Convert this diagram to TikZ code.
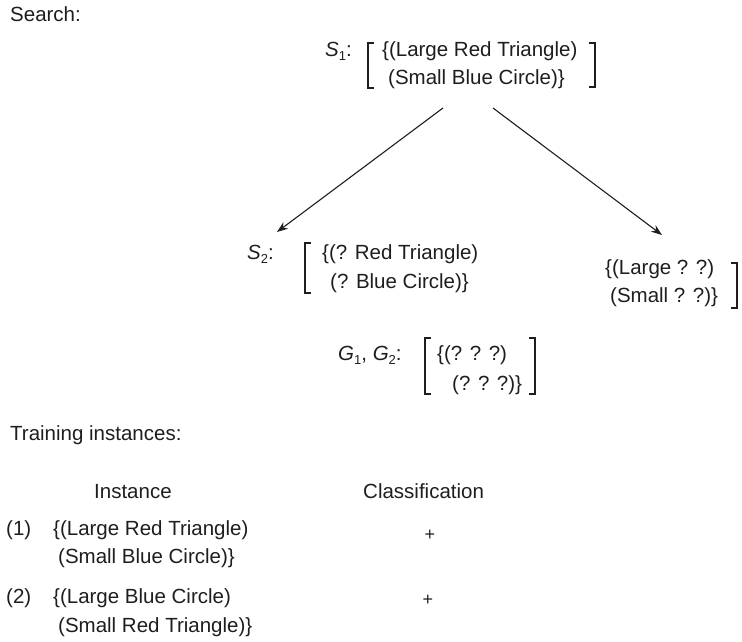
\documentclass[tikz,border=0pt]{standalone}
\usepackage{fontspec}
\setmainfont{Liberation Sans}
\usetikzlibrary{arrows.meta}
\definecolor{ink}{HTML}{1E1E1E}
\newcommand\lbsub[1]{\raisebox{-0.35ex}{\fontsize{13}{13}\selectfont #1}}
\begin{document}
\begin{tikzpicture}[x=1pt,y=1pt,
  txt/.style={anchor=base west, inner sep=0pt, text=ink, font=\fontsize{20.5}{24}\selectfont},
  plus/.style={anchor=center, inner sep=0pt, text=ink, font=\fontsize{18}{18}\selectfont},
  brk/.style={draw=ink, line width=1.2pt},
  arr/.style={draw=ink, line width=1.1pt, -{Stealth[length=11pt,width=8pt]}}]
\useasboundingbox (0,0) rectangle (742,641);
% Search
\node[txt] (search) at (10,619) {Search:};
% S1
\node[txt] (s1lab) at (325,584) {\textit{S}\lbsub{1}:};
\node[txt] (s1a) at (382,584) {\{(Large Red Triangle)};
\node[txt] (s1b) at (388,556) {(Small Blue Circle)\}};
\draw[brk] (374,598) -- (368,598) -- (368,553) -- (374,553);
\draw[brk] (589,598) -- (595,598) -- (595,554) -- (589,554);
% S2
\node[txt] (s2lab) at (247,381) {\textit{S}\lbsub{2}:};
\node[txt] (s2a) at (322,381) {\{(? Red Triangle)};
\node[txt] (s2b) at (330,352) {(? Blue Circle)\}};
\draw[brk] (311,398) -- (305,398) -- (305,348) -- (311,348);
% right node
\node[txt] (s3a) at (605,366) {\{(Large ? ?)};
\node[txt] (s3b) at (610,338) {(Small ? ?)\}};
\draw[brk] (731,378) -- (737,378) -- (737,333) -- (731,333);
% arrows
\coordinate (l1) at (443,533);
\coordinate (l2) at (277,409);
\coordinate (r1) at (493,533);
\coordinate (r2) at (662,406);
\draw[arr] (l1) -- (l2);
\draw[arr] (r1) -- (r2);
% G
\node[txt] (glab) at (338,280) {\textit{G}\lbsub{1}, \textit{G}\lbsub{2}:};
\node[txt] (ga) at (437,280) {\{(? ? ?)};
\node[txt] (gb) at (452,251) {(? ? ?)\}};
\draw[brk] (431,303) -- (425,303) -- (425,247) -- (431,247);
\draw[brk] (529,303) -- (535,303) -- (535,247) -- (529,247);
% training
\node[txt] (train) at (10,201) {Training instances:};
\node[txt] (inst) at (94,143) {Instance};
\node[txt] (cls) at (363,143) {Classification};
\node[txt] (n1) at (6,106) {(1)};
\node[txt] (i1a) at (53,106) {\{(Large Red Triangle)};
\node[txt] (i1b) at (58,78) {(Small Blue Circle)\}};
\node[plus] (p1) at (430,106) {+};
\node[txt] (n2) at (6,38) {(2)};
\node[txt] (i2a) at (53,38) {\{(Large Blue Circle)};
\node[txt] (i2b) at (58,9) {(Small Red Triangle)\}};
\node[plus] (p2) at (428,41) {+};
\end{tikzpicture}
\end{document}
